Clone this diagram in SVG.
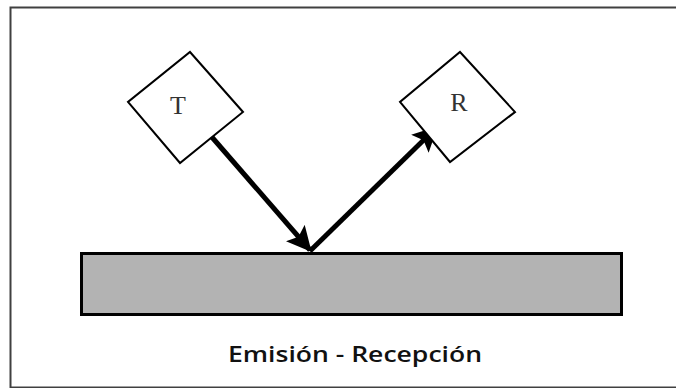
<svg xmlns="http://www.w3.org/2000/svg" width="676" height="388" viewBox="0 0 676 388">
  <style>
    .frame { fill: none; stroke: #404040; stroke-width: 2; }
    .box { fill: #ffffff; stroke: #000000; stroke-width: 2; }
    .lbl { font-family: "Liberation Serif", "Times New Roman", serif; font-size: 26px; fill: #333333; text-anchor: middle; }
    .surface { fill: #b3b3b3; stroke: #000000; stroke-width: 3; }
    .ray { stroke: #000000; stroke-width: 5; fill: none; marker-end: url(#ah); }
    .caption { font-family: "Open Sans", "Liberation Sans", sans-serif; font-size: 21px; font-weight: 600; fill: #111111; }
  </style>
  <defs>
    <marker id="ah" viewBox="0 0 10 10" refX="9" refY="5" markerWidth="5" markerHeight="5" orient="auto" markerUnits="strokeWidth">
      <path d="M0,0 L10,5 L0,10 L2,5 Z" fill="#000000"/>
    </marker>
  </defs>
  <rect x="0" y="0" width="676" height="388" fill="#ffffff"/>
  <rect class="frame" x="10.5" y="7.5" width="700" height="380"/>

  <g id="surface">
    <rect class="surface" x="81.5" y="253.5" width="540" height="61"/>
  </g>

  <g id="connectors">
    <line class="ray" x1="204" y1="128" x2="310" y2="250"/>
    <line class="ray" x1="310" y1="251" x2="436" y2="128"/>
  </g>

  <g id="node-T">
    <polygon class="box" points="190,52 243,112 180,163 128,102"/>
    <text class="lbl" x="178" y="114">T</text>
  </g>

  <g id="node-R">
    <polygon class="box" points="460,52 515,112 450,162 400,102"/>
    <text class="lbl" x="459" y="111">R</text>
  </g>

  <g id="caption">
    <text class="caption" x="228" y="362" textLength="254" lengthAdjust="spacingAndGlyphs">Emisión - Recepción</text>
  </g>
</svg>
